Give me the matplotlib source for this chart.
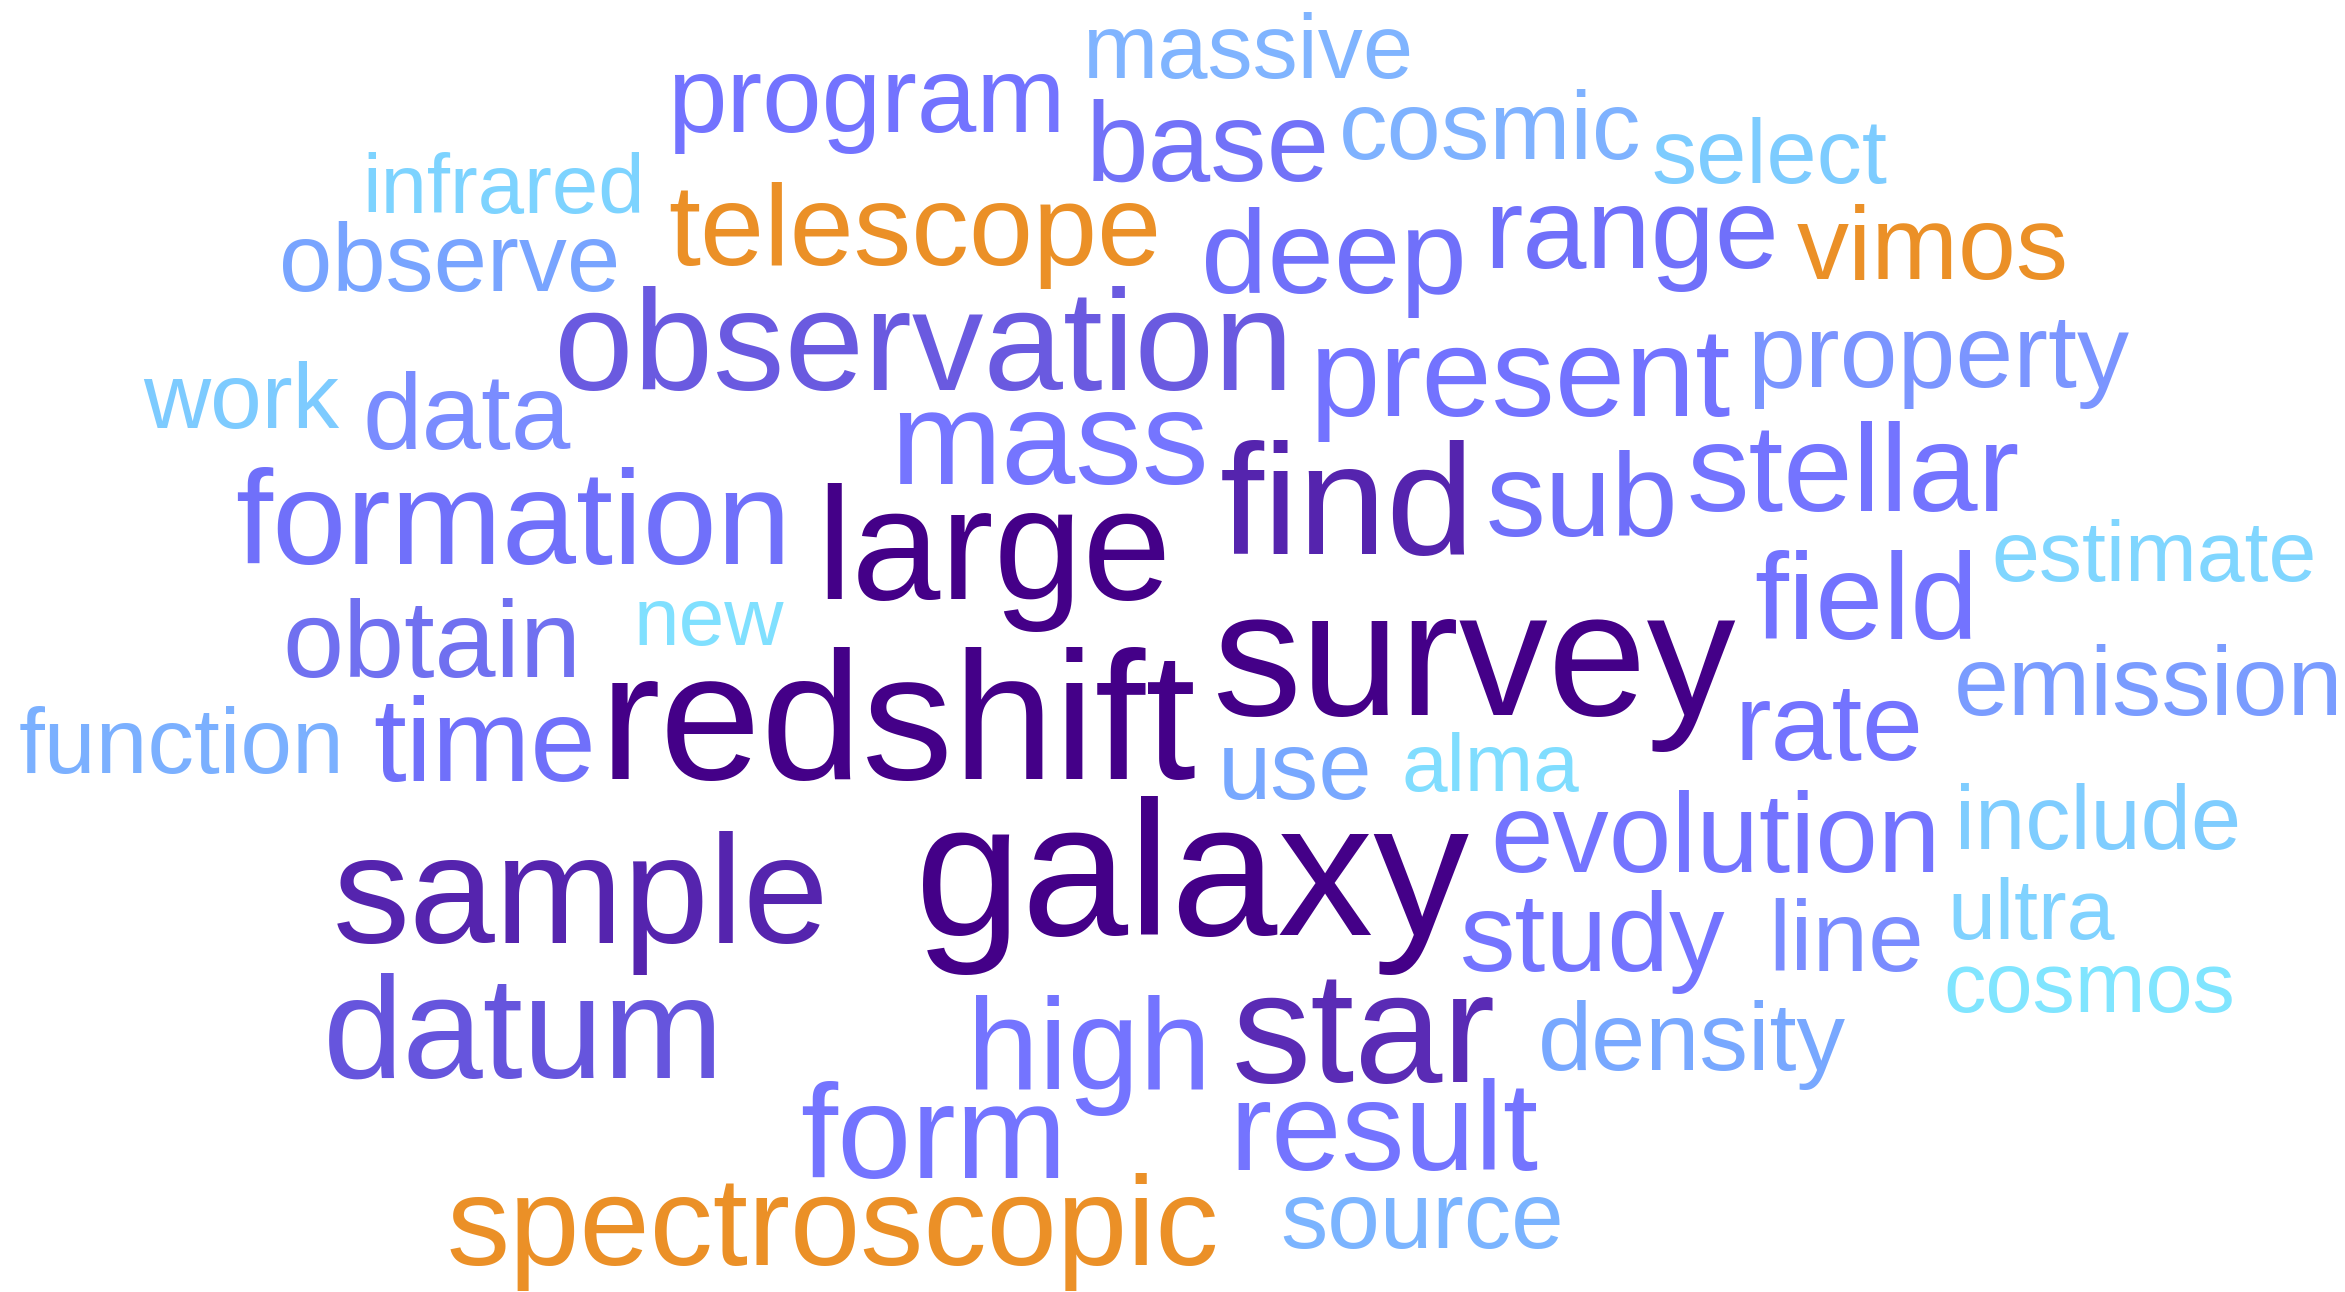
import matplotlib.pyplot as plt

# word frequencies drawn as font size (pt)
words = ['massive', 'program', 'base', 'cosmic', 'select', 'infrared', 'telescope',
         'observe', 'deep', 'range', 'vimos', 'observation', 'present', 'property',
         'work', 'data', 'mass', 'find', 'sub', 'stellar', 'formation', 'large',
         'estimate', 'field', 'obtain', 'new', 'survey', 'emission', 'redshift',
         'function', 'time', 'rate', 'use', 'alma', 'evolution', 'include', 'sample',
         'galaxy', 'study', 'line', 'ultra', 'cosmos', 'datum', 'high', 'star', 'form',
         'density', 'result', 'spectroscopic', 'source']
sizes = [65, 77, 81, 70, 65, 60, 83,
         69, 86, 83, 75, 103, 91, 75,
         67, 77, 96, 114, 86, 90, 96, 115,
         62, 88, 79, 59, 128, 71, 131,
         67, 85, 79, 69, 59, 81, 65, 111,
         138, 80, 72, 62, 61, 104, 93, 114, 96,
         70, 91, 91, 68]

# colours per word
colors = ['#80B4FF', '#7373FF', '#7272F8', '#7FB2FF', '#7DCCFF', '#7DD3FF', '#EB9027',
          '#78A4FF', '#7070FA', '#7070FA', '#EB9027', '#6A5AE0', '#7373FF', '#7B95FF',
          '#7DCBFF', '#7A8CFF', '#7575FF', '#5524AE', '#7070FA', '#7474FF', '#7070FA', '#440088',
          '#80D6FF', '#7373FF', '#7070F0', '#80E0FF', '#440088', '#7A9CFF', '#440088',
          '#7BB0FF', '#7070FA', '#7373FF', '#78A8FF', '#80DDFF', '#7474FF', '#7FCDFF', '#5524AE',
          '#440088', '#7474FF', '#7A8CFF', '#80D2FF', '#80E5FF', '#6655DD', '#7474FF', '#5A2BB5', '#7474FF',
          '#78A8FF', '#7474FF', '#EB9027', '#7BB4FF']

# layout: word centre x and baseline y, in pixels of the 2345x1292 canvas
layout = [(1248, 78), (866, 132), (1208, 181), (1490, 159), (1770, 183), (504, 213), (915, 265),
          (450, 291), (1334, 293), (1632, 268), (1933, 279), (924, 390), (1521, 416), (1938, 387),
          (241, 428), (467, 449), (1050, 484), (1347, 554), (1582, 536), (1853, 511), (513, 564), (994, 599),
          (2154, 581), (1866, 639), (432, 677), (709, 645), (1474, 715), (2148, 715), (898, 779),
          (181, 773), (485, 781), (1829, 760), (1295, 799), (1490, 791), (1715, 872), (2098, 849), (581, 943),
          (1192, 935), (1593, 971), (1846, 971), (2031, 939), (2089, 1012), (524, 1078), (1089, 1089), (1364, 1082), (934, 1178),
          (1692, 1070), (1384, 1170), (833, 1265), (1422, 1248)]

W, H = 2345, 1292
fig = plt.figure(figsize=(W / 100, H / 100), dpi=100)
fig.patch.set_facecolor('white')
ax = fig.add_axes([0, 0, 1, 1])
ax.set_xlim(0, W)
ax.set_ylim(H, 0)
ax.axis('off')

for word, size, color, (x, y) in zip(words, sizes, colors, layout):
    ax.text(x, y, word, fontsize=size, color=color, ha='center', va='baseline',
            family=['Liberation Sans', 'DejaVu Sans'])

fig.savefig('out.png', dpi=100, facecolor='white')
